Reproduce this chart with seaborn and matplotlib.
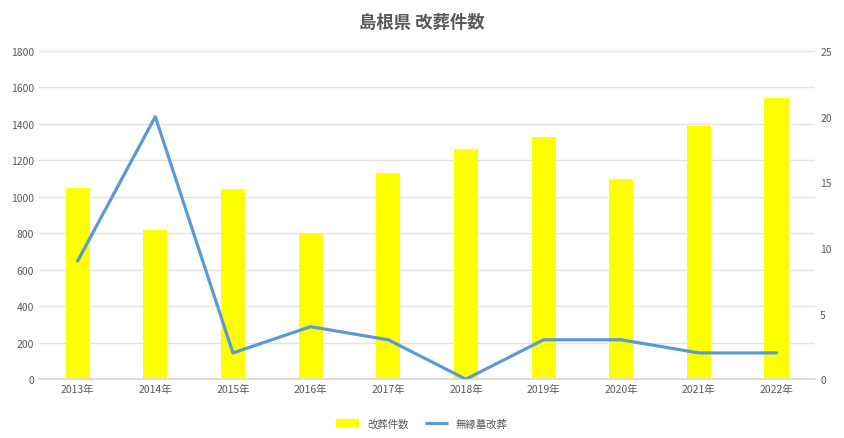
import matplotlib
matplotlib.use("Agg")
import matplotlib.pyplot as plt
import seaborn as sns
import pandas as pd
import numpy as np
from matplotlib.lines import Line2D

years = ["2013年", "2014年", "2015年", "2016年", "2017年", "2018年", "2019年", "2020年", "2021年", "2022年"]
kaisou = [1050, 820, 1045, 795, 1130, 1260, 1330, 1100, 1390, 1540]
muen = [9, 20, 2, 4, 3, 0, 3, 3, 2, 2]

sns.set_theme(style="white")
plt.rcParams['font.family'] = ['Noto Sans CJK JP', 'DejaVu Sans']

df = pd.DataFrame({"year": years, "kaisou": kaisou, "muen": muen, "pos": np.arange(len(years))})

fig = plt.figure(figsize=(8.44, 4.39), dpi=100)
ax = fig.add_axes([0.046, 0.134, 0.92, 0.7475])
tc = "#595959"

sns.barplot(data=df, x="year", y="kaisou", color="#FFFF00", saturation=1, width=0.31,
            linewidth=0, edgecolor="none", ax=ax, zorder=2)
ax.set_ylim(0, 1800)
ax.set_yticks(np.arange(0, 1801, 200))
ax.set_xlim(-0.5, len(years) - 0.5)
ax.yaxis.grid(True, color="#E3E3E3", linewidth=1)
ax.set_axisbelow(True)
for s in ax.spines.values():
    s.set_visible(False)
ax.spines["bottom"].set_visible(True)
ax.spines["bottom"].set_color("#D9D9D9")
ax.set_xlabel("")
ax.set_ylabel("")
ax.tick_params(axis="both", colors=tc, labelsize=7.5, length=0)

ax2 = ax.twinx()
sns.lineplot(data=df, x="pos", y="muen", color="#5B9BD5", linewidth=2.3, ax=ax2, zorder=3)
ax2.set_ylim(0, 25)
ax2.set_yticks(np.arange(0, 26, 5))
ax2.set_xlim(-0.5, len(years) - 0.5)
for s in ax2.spines.values():
    s.set_visible(False)
ax2.set_ylabel("")
ax2.set_xlabel("")
ax2.tick_params(axis="both", colors=tc, labelsize=7.5, length=0)
ax2.grid(False)

fig.text(0.5, 0.948, "島根県 改葬件数", ha="center", va="center", fontsize=12.5, color=tc, fontweight="bold")

handles = [Line2D([0], [0], color="#FFFF00", linewidth=6, solid_capstyle="butt"),
           Line2D([0], [0], color="#5B9BD5", linewidth=2.3, solid_capstyle="butt")]
fig.legend(handles, ["改葬件数", "無縁墓改葬"], loc="center", bbox_to_anchor=(0.5, 0.033),
           ncol=2, frameon=False, fontsize=7.5, labelcolor=tc, handlelength=2.2, columnspacing=1.5)

fig.savefig("out.png", dpi=100)
